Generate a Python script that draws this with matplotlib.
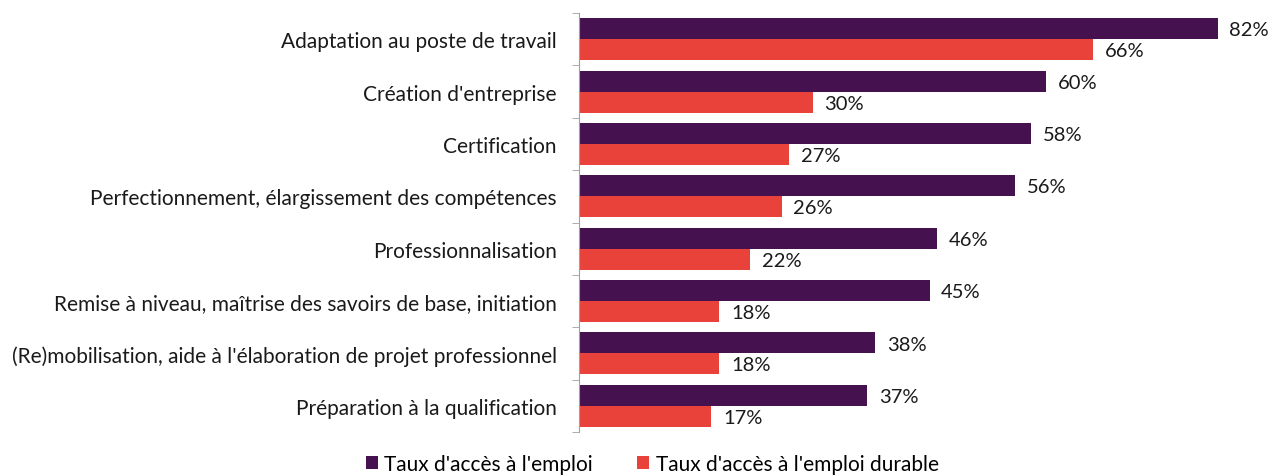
import matplotlib.pyplot as plt
import numpy as np

plt.rcParams['font.family'] = ['Lato', 'DejaVu Sans']

categories = ["Adaptation au poste de travail",
              "Création d'entreprise",
              "Certification",
              "Perfectionnement, élargissement des compétences",
              "Professionnalisation",
              "Remise à niveau, maîtrise des savoirs de base, initiation",
              "(Re)mobilisation, aide à l'élaboration de projet professionnel",
              "Préparation à la qualification"]
acces_emploi = [82, 60, 58, 56, 46, 45, 38, 37]
acces_durable = [66, 30, 27, 26, 22, 18, 18, 17]
series_names = ["Taux d'accès à l'emploi", "Taux d'accès à l'emploi durable"]

purple = '#46114f'
red = '#e8423b'

fig = plt.figure(figsize=(12.71, 4.77), dpi=100)
ax = fig.add_axes([579 / 1271, 1 - 433 / 477, 692 / 1271, 419 / 477])

n = len(categories)
y = np.arange(n)
h = 0.4
b1 = ax.barh(y - h / 2, acces_emploi, height=h, color=purple, label=series_names[0])
b2 = ax.barh(y + h / 2, acces_durable, height=h, color=red, label=series_names[1])

for bars, vals in ((b1, acces_emploi), (b2, acces_durable)):
    for bar, v in zip(bars, vals):
        ax.text(bar.get_width() + 1.5, bar.get_y() + bar.get_height() / 2 + 0.02, f"{v}%",
                va='center', ha='left', fontsize=14.5, color='#1a1a1a')

ax.set_xlim(0, 692 / 7.79)
ax.set_ylim(n - 0.5, -0.5)
ax.set_yticks(y)
ax.set_yticklabels(categories, fontsize=15, color='#1a1a1a')
ax.set_yticks(np.arange(n + 1) - 0.5, minor=True)
ax.tick_params(axis='y', which='major', length=0, pad=16)
ax.tick_params(axis='y', which='minor', length=5, color='#a0a0a0')
ax.set_xticks([])
for s in ['top', 'right', 'bottom']:
    ax.spines[s].set_visible(False)
ax.spines['left'].set_color('#a0a0a0')

fig.legend(handles=[b1, b2], loc='lower left', bbox_to_anchor=(347 / 1271, -0.035),
           ncol=2, frameon=False, fontsize=15, handlelength=0.6, handleheight=0.6,
           handletextpad=0.3, columnspacing=2.1)

fig.savefig('out.png', dpi=100)
